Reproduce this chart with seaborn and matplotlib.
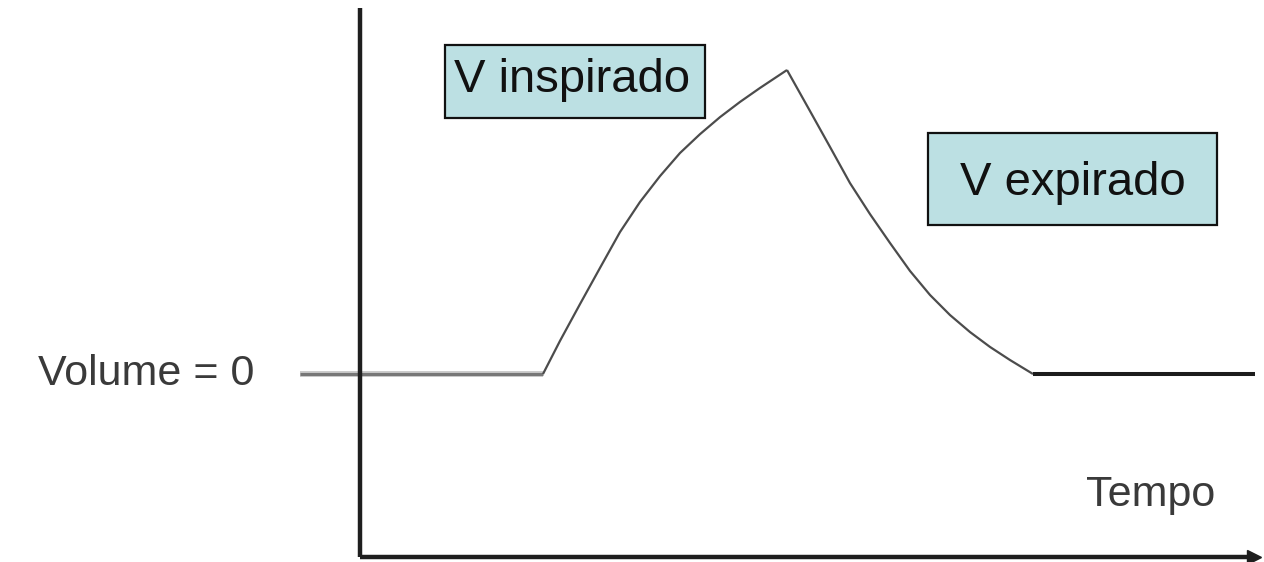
import matplotlib
matplotlib.use("Agg")
import matplotlib.pyplot as plt
from matplotlib.patches import Rectangle
import seaborn as sns
import pandas as pd

# ---- data (time in arbitrary units, volume normalised to peak = 1) ----
rest_before_t = [-0.60, 1.835]
rest_before_v = [0.0, 0.0]

insp_t = [1.835, 2.005, 2.205, 2.405, 2.605, 2.805, 3.005, 3.205, 3.405, 3.605, 3.805, 4.005, 4.275]
insp_v = [0.0, 0.109, 0.230, 0.349, 0.467, 0.566, 0.651, 0.727, 0.789, 0.845, 0.895, 0.941, 1.0]

exp_t = [4.275, 4.505, 4.705, 4.905, 5.105, 5.305, 5.505, 5.705, 5.905, 6.105, 6.305, 6.505, 6.735]
exp_v = [1.0, 0.865, 0.747, 0.628, 0.526, 0.431, 0.339, 0.260, 0.194, 0.138, 0.089, 0.046, 0.0]

rest_after_t = [6.735, 8.955]
rest_after_v = [0.0, 0.0]

label_zero = "Volume = 0"
label_time = "Tempo"
label_insp = "V inspirado"
label_exp = "V expirado"

# ---- figure ----
sns.set_style("white")
plt.rcParams["font.family"] = ["Liberation Sans", "DejaVu Sans"]

W, H = 1264, 562
fig = plt.figure(figsize=(W / 100, H / 100), dpi=100)
ax = fig.add_axes([359.5 / W, 5 / H, (1250 - 359.5) / W, (557 - 8) / H])
ax.set_xlim(0, 8.905)
ax.set_ylim(-0.602, 1.204)


def seg(t, v, color, lw):
    df = pd.DataFrame({"t": t, "v": v})
    sns.lineplot(data=df, x="t", y="v", ax=ax, color=color, linewidth=lw,
                 sort=False, estimator=None)
    ln = ax.lines[-1]
    ln.set_clip_on(False)
    ln.set_solid_capstyle("butt")
    ln.set_solid_joinstyle("round")


seg(rest_before_t, rest_before_v, "#c8c8c8", 4.2)
seg(rest_before_t, rest_before_v, "#777777", 2.2)
seg(insp_t, insp_v, "#4c4c4c", 1.6)
seg(exp_t, exp_v, "#4c4c4c", 1.6)
seg(rest_after_t, rest_after_v, "#1c1c1c", 2.9)

# axes spines
for s in ["top", "right"]:
    ax.spines[s].set_visible(False)
for s in ["left", "bottom"]:
    ax.spines[s].set_color("#1e1e1e")
    ax.spines[s].set_linewidth(3.2)
    ax.spines[s].set_capstyle("butt")
ax.set_xticks([])
ax.set_yticks([])
ax.set_xlabel("")
ax.set_ylabel("")
ax.plot([1.005], [0.0], marker=">", markersize=10, color="#1e1e1e",
        transform=ax.transAxes, clip_on=False)

# labels
ax.text(-1.05, 0.0, label_zero, ha="right", va="center", fontsize=31,
        color="#3a3a3a", clip_on=False)
ax.text(7.915, -0.398, label_time, ha="center", va="center", fontsize=31,
        color="#3a3a3a")

# boxes (pixel layout -> data)
def px2d(x, y):
    return (x - 359.5) / 100.0, (374 - y) / 304.0

box_col = "#bce0e3"
for (x0, y0, x1, y1) in [(445, 45, 705, 118), (928, 133, 1217, 225)]:
    a = px2d(x0, y1)
    b = px2d(x1, y0)
    ax.add_patch(Rectangle(a, b[0] - a[0], b[1] - a[1], facecolor=box_col,
                           edgecolor="#111111", linewidth=1.6, zorder=3,
                           clip_on=False))

tx, ty = px2d(572.5, 92)
ax.text(tx, ty, label_insp, ha="center", va="baseline", fontsize=34,
        color="#111111", zorder=4)
tx, ty = px2d(1072.5, 195)
ax.text(tx, ty, label_exp, ha="center", va="baseline", fontsize=34,
        color="#111111", zorder=4)

fig.savefig("out.png", dpi=100)
